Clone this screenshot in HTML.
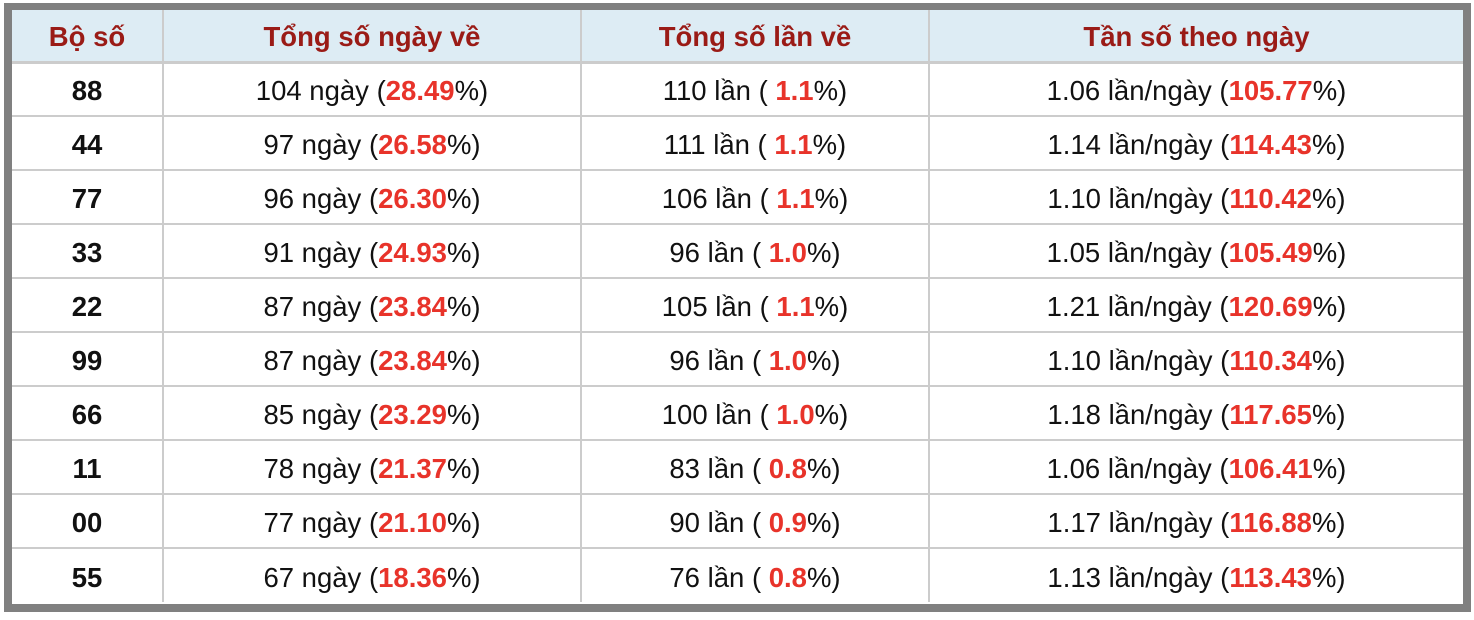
<!DOCTYPE html>
<html><head><meta charset="utf-8"><style>
html,body{margin:0;padding:0;background:#fff;}
.wrap{position:absolute;left:4px;top:3px;width:1451px;height:594px;border:8px solid #808080;border-top-width:7px;background:#fff;overflow:hidden;}
table{border-collapse:collapse;width:1451px;table-layout:fixed;font-family:"Liberation Sans",Arial,sans-serif;font-size:27.5px;}
th{background:#ddecf4;color:#9a1b16;font-weight:bold;height:52px;border-bottom:3px solid #cccccc;border-right:2px solid #cccccc;padding:4px 0 0 0;box-sizing:border-box;text-align:center;}
td{height:54px;border-bottom:2px solid #cccccc;border-right:2px solid #cccccc;padding:4px 0 0 0;box-sizing:border-box;text-align:center;color:#111;}
tr:last-child td{border-bottom:none;}
th:last-child,td:last-child{border-right:none;}
td.b{font-weight:bold;}
.r{color:#e8332a;font-weight:bold;}
</style></head><body>
<div class="wrap"><table>
<colgroup><col style="width:151px"><col style="width:418px"><col style="width:348px"><col style="width:534px"></colgroup>
<tr><th>Bộ số</th><th>Tổng số ngày về</th><th>Tổng số lần về</th><th>Tần số theo ngày</th></tr>
<tr><td class="b">88</td><td>104 ngày (<span class="r">28.49</span>%)</td><td>110 lần ( <span class="r">1.1</span>%)</td><td>1.06 lần/ngày (<span class="r">105.77</span>%)</td></tr>
<tr><td class="b">44</td><td>97 ngày (<span class="r">26.58</span>%)</td><td>111 lần ( <span class="r">1.1</span>%)</td><td>1.14 lần/ngày (<span class="r">114.43</span>%)</td></tr>
<tr><td class="b">77</td><td>96 ngày (<span class="r">26.30</span>%)</td><td>106 lần ( <span class="r">1.1</span>%)</td><td>1.10 lần/ngày (<span class="r">110.42</span>%)</td></tr>
<tr><td class="b">33</td><td>91 ngày (<span class="r">24.93</span>%)</td><td>96 lần ( <span class="r">1.0</span>%)</td><td>1.05 lần/ngày (<span class="r">105.49</span>%)</td></tr>
<tr><td class="b">22</td><td>87 ngày (<span class="r">23.84</span>%)</td><td>105 lần ( <span class="r">1.1</span>%)</td><td>1.21 lần/ngày (<span class="r">120.69</span>%)</td></tr>
<tr><td class="b">99</td><td>87 ngày (<span class="r">23.84</span>%)</td><td>96 lần ( <span class="r">1.0</span>%)</td><td>1.10 lần/ngày (<span class="r">110.34</span>%)</td></tr>
<tr><td class="b">66</td><td>85 ngày (<span class="r">23.29</span>%)</td><td>100 lần ( <span class="r">1.0</span>%)</td><td>1.18 lần/ngày (<span class="r">117.65</span>%)</td></tr>
<tr><td class="b">11</td><td>78 ngày (<span class="r">21.37</span>%)</td><td>83 lần ( <span class="r">0.8</span>%)</td><td>1.06 lần/ngày (<span class="r">106.41</span>%)</td></tr>
<tr><td class="b">00</td><td>77 ngày (<span class="r">21.10</span>%)</td><td>90 lần ( <span class="r">0.9</span>%)</td><td>1.17 lần/ngày (<span class="r">116.88</span>%)</td></tr>
<tr><td class="b">55</td><td>67 ngày (<span class="r">18.36</span>%)</td><td>76 lần ( <span class="r">0.8</span>%)</td><td>1.13 lần/ngày (<span class="r">113.43</span>%)</td></tr>
</table></div>
</body></html>
